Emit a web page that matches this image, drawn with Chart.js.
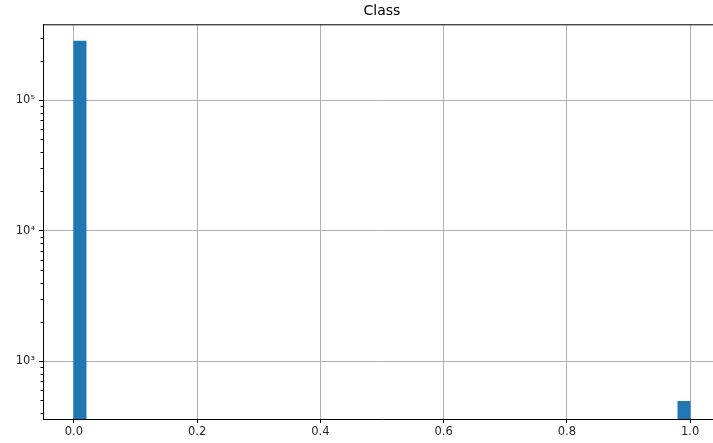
<!DOCTYPE html>
<html>
<head>
<meta charset="utf-8">
<script src="https://cdn.jsdelivr.net/npm/chart.js@4"></script>
<style>
  html, body { margin: 0; padding: 0; background: #fff; overflow: hidden; }
  #wrap { width: 730px; height: 443px; }
</style>
</head>
<body>
<div id="wrap"><canvas id="classHist"></canvas></div>
<script>
/* ======================
DATA
====================== */

const classValues = [0, 1];
const classCounts = [284315, 492];
const binCount = 50;
const xTicks = [0, 0.2, 0.4, 0.6, 0.8, 1.0];
const yDecades = [1000, 10000, 100000];

/* ======================
HISTOGRAM BINS
====================== */

const lo = Math.min(...classValues);
const hi = Math.max(...classValues);
const binWidth = (hi - lo) / binCount;
const binTotals = new Array(binCount).fill(0);

classValues.forEach((v, i) => {
  let b = Math.floor((v - lo) / binWidth);
  if (b >= binCount) b = binCount - 1;
  binTotals[b] += classCounts[i];
});

const histPoints = binTotals.map((n, b) => ({
  x: lo + (b + 0.5) * binWidth,
  y: n > 0 ? n : null,
}));

const isDecade = (v) => Math.abs(Math.log10(v) - Math.round(Math.log10(v))) < 1e-9;
const sup = { 0: "⁰", 1: "¹", 2: "²", 3: "³", 4: "⁴", 5: "⁵", 6: "⁶" };

/* ======================
SPINES + MINOR TICKS
====================== */

const framePlugin = {
  id: "frame",
  afterDraw(chart) {
    const { ctx, chartArea: a } = chart;
    const y = chart.scales.y;
    ctx.save();
    ctx.strokeStyle = "#000";
    ctx.lineWidth = 1;
    ctx.beginPath();
    // top and right spines
    ctx.moveTo(a.left, a.top + 0.5);
    ctx.lineTo(a.right, a.top + 0.5);
    ctx.moveTo(a.right - 0.5, a.top);
    ctx.lineTo(a.right - 0.5, a.bottom);
    // short minor ticks on the log axis
    y.ticks.forEach((t) => {
      if (isDecade(t.value)) return;
      const py = Math.round(y.getPixelForValue(t.value)) + 0.5;
      ctx.moveTo(a.left - 2.5, py);
      ctx.lineTo(a.left, py);
    });
    ctx.stroke();
    ctx.restore();
  },
};

/* ======================
CHART
====================== */

Chart.defaults.font.family = "'DejaVu Sans', sans-serif";
Chart.defaults.color = "#262626";

new Chart(document.getElementById("classHist"), {
  type: "bar",
  data: {
    datasets: [
      {
        data: histPoints,
        backgroundColor: "#1f77b4",
        borderWidth: 0,
        barPercentage: 1,
        categoryPercentage: 1,
      },
    ],
  },
  plugins: [framePlugin],
  options: {
    responsive: true,
    maintainAspectRatio: false,
    animation: false,
    layout: { padding: { left: 0, right: 9, top: 0, bottom: 0 } },
    plugins: {
      legend: { display: false },
      tooltip: { enabled: false },
      title: {
        display: true,
        text: "Class",
        fullSize: false,
        color: "#000",
        font: { size: 14, weight: "normal" },
        padding: { top: 3, bottom: 4.5 },
      },
    },
    scales: {
      x: {
        type: "linear",
        offset: false,
        min: -0.05,
        max: 1.05,
        z: 1,
        afterBuildTicks: (s) => { s.ticks = xTicks.map((v) => ({ value: v })); },
        afterFit: (s) => { s.height = 24; },
        grid: {
          offset: false,
          color: "#b0b0b0",
          lineWidth: 1,
          tickColor: "#000",
          tickLength: 4,
        },
        border: { color: "#000", width: 1 },
        ticks: {
          autoSkip: false,
          maxRotation: 0,
          padding: 2,
          font: { size: 11.5 },
          callback: (v) => Number(v).toFixed(1),
        },
      },
      y: {
        type: "logarithmic",
        min: 360,
        max: 382000,
        z: 1,
        afterBuildTicks: (s) => {
          const t = [];
          for (let d = 100; d <= 100000; d *= 10) {
            for (let m = 1; m <= 9; m++) {
              const v = m * d;
              if (v >= s.min && v <= s.max) t.push({ value: v });
            }
          }
          s.ticks = t;
        },
        afterFit: (s) => { s.width = 43; },
        grid: {
          color: (c) => (c.tick && yDecades.includes(c.tick.value) ? "#b0b0b0" : "rgba(0,0,0,0)"),
          tickColor: (c) => (c.tick && isDecade(c.tick.value) ? "#000" : "rgba(0,0,0,0)"),
          lineWidth: 1,
          tickLength: 4,
        },
        border: { color: "#000", width: 1 },
        ticks: {
          autoSkip: false,
          padding: 4,
          font: { size: 11.5 },
          callback: (v) => (isDecade(v) ? "10" + sup[Math.round(Math.log10(v))] : ""),
        },
      },
    },
  },
});
</script>
</body>
</html>
